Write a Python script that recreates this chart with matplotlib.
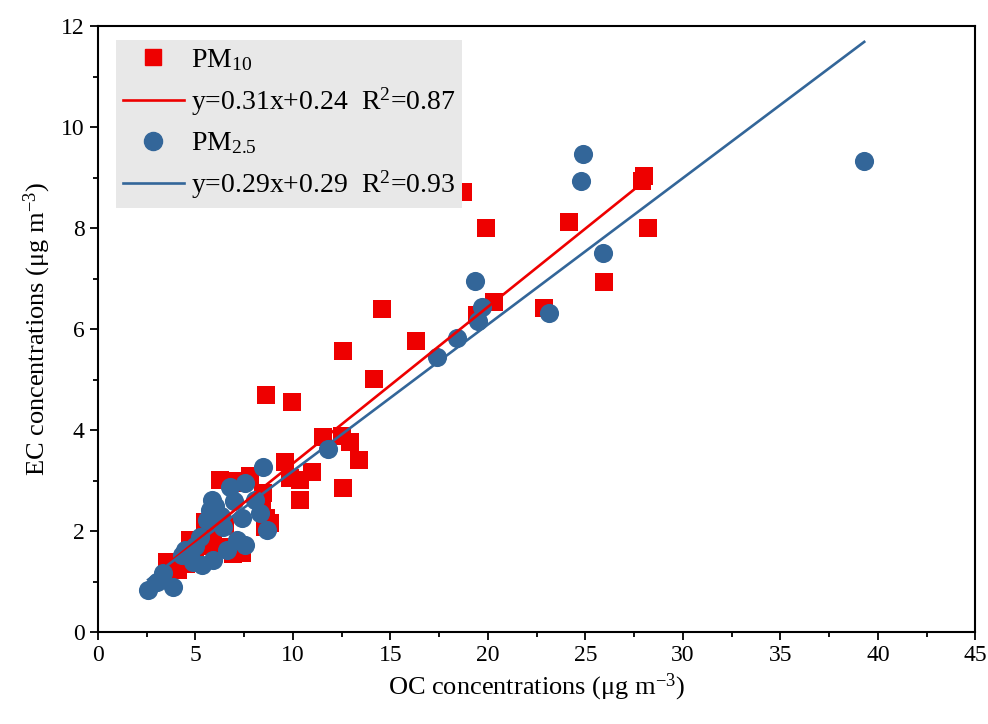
import numpy as np
import matplotlib.pyplot as plt
from matplotlib.lines import Line2D

plt.rcParams['font.family'] = ['Liberation Serif', 'DejaVu Serif']
plt.rcParams['mathtext.fontset'] = 'custom'
plt.rcParams['mathtext.rm'] = 'Liberation Serif'
plt.rcParams['mathtext.it'] = 'Liberation Serif:italic'

# PM10 (OC, EC)
pm10_oc = [3.54, 4.1, 4.5, 5.0, 5.49, 5.6, 5.9, 6.26, 6.5, 6.9, 7.13, 7.2, 7.39, 7.8,
           8.47, 8.6, 8.8, 8.4, 8.57, 9.6, 9.85, 10.36, 10.36, 10.98, 11.54, 12.52,
           12.93, 12.57, 13.39, 8.62, 9.95, 14.16, 12.57, 16.32, 14.57, 19.45, 20.32,
           22.88, 25.96, 18.73, 19.9, 24.17, 27.9, 28.0, 28.2, 5.85, 6.36, 4.7]
pm10_ec = [1.39, 1.23, 1.35, 1.45, 2.18, 1.70, 1.96, 3.01, 2.1, 1.55, 2.95, 3.0, 1.56, 3.1,
           2.75, 2.25, 2.16, 2.6, 2.08, 3.37, 3.05, 3.01, 2.61, 3.17, 3.86, 3.88,
           3.76, 2.85, 3.41, 4.69, 4.55, 5.01, 5.56, 5.76, 6.40, 6.28, 6.53,
           6.42, 6.93, 8.71, 8.0, 8.12, 8.93, 9.03, 8.0, 2.02, 1.68, 1.82]

# PM2.5 (OC, EC)
pm25_oc = [39.3, 24.88, 24.78, 25.9, 23.14, 19.34, 19.7, 19.5, 18.42, 17.39, 11.8, 8.47,
           6.77, 7.54, 5.85, 5.75, 7.39, 8.31, 8.67, 8.06, 5.23, 7.13, 7.54, 6.62, 5.90,
           4.46, 4.31, 4.87, 3.34, 3.03, 3.85, 2.57, 5.34, 5.6, 6.4, 4.7, 5.0, 6.0, 6.3, 7.0]
pm25_ec = [9.33, 9.47, 8.93, 7.5, 6.32, 6.95, 6.44, 6.16, 5.82, 5.45, 3.62, 3.27,
           2.87, 2.95, 2.61, 2.42, 2.26, 2.36, 2.02, 2.61, 1.88, 1.82, 1.72, 1.62, 1.43,
           1.62, 1.52, 1.39, 1.17, 0.99, 0.89, 0.83, 1.33, 2.22, 2.08, 1.5, 1.7, 2.5, 2.3, 2.6]

# fit coefficients (slope, intercept, R2)
fit10 = (0.31, 0.24, 0.87)
fit25 = (0.29, 0.29, 0.93)

red = '#EE0000'
blue = '#336699'

fig = plt.figure(figsize=(9.88, 7.24), dpi=100)
ax = fig.add_axes([0.0992, 0.127, 0.888, 0.837])

ax.scatter(pm10_oc, pm10_ec, marker='s', s=150, color=red, linewidths=0, zorder=2)
ax.scatter(pm25_oc, pm25_ec, marker='o', s=190, color=blue, linewidths=0, zorder=3)

x10 = np.array([min(pm10_oc), max(pm10_oc)])
x25 = np.array([min(pm25_oc), max(pm25_oc)])
ax.plot(x10, fit10[0] * x10 + fit10[1], color=red, lw=1.9, zorder=4)
ax.plot(x25, fit25[0] * x25 + fit25[1], color=blue, lw=1.9, zorder=4)

ax.set_xlim(0, 45)
ax.set_ylim(0, 12)
ax.set_xticks(np.arange(0, 46, 5))
ax.set_xticks(np.arange(2.5, 45, 5), minor=True)
ax.set_yticks(np.arange(0, 13, 2))
ax.set_yticks(np.arange(1, 12, 2), minor=True)
ax.tick_params(which='major', direction='out', length=6, width=1.3, labelsize=17)
ax.tick_params(which='minor', direction='out', length=3.5, width=1.3)
for sp in ax.spines.values():
    sp.set_linewidth(1.5)

ax.set_xlabel(r'OC concentrations (μg m$^{-3}$)', fontsize=19, labelpad=4)
ax.set_ylabel(r'EC concentrations (μg m$^{-3}$)', fontsize=19, labelpad=6)

handles = [
    Line2D([], [], ls='none', marker='s', ms=12, color=red),
    Line2D([], [], color=red, lw=1.9),
    Line2D([], [], ls='none', marker='o', ms=13, color=blue),
    Line2D([], [], color=blue, lw=1.9),
]
labels = [
    r'PM$_{10}$',
    'y=%.2fx+%.2f  R$^2$=%.2f' % fit10,
    r'PM$_{2.5}$',
    'y=%.2fx+%.2f  R$^2$=%.2f' % fit25,
]
leg = ax.legend(handles, labels, loc='upper left', bbox_to_anchor=(0.02, 0.977),
                borderaxespad=0, fontsize=20, frameon=True, fancybox=False,
                facecolor='#E8E8E8', edgecolor='none', framealpha=1,
                handlelength=2.2, handletextpad=0.25, labelspacing=0.45,
                borderpad=0.25)

fig.savefig('out.png', dpi=100)
